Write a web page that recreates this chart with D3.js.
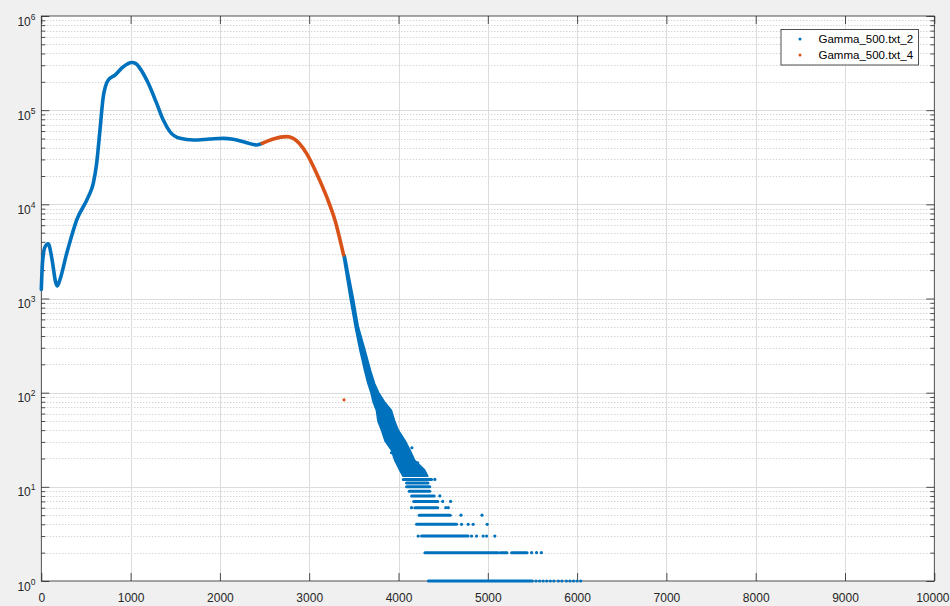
<!DOCTYPE html>
<html>
<head>
<meta charset="utf-8">
<script src="https://cdn.jsdelivr.net/npm/d3@7"></script>
<style>
body { margin: 0; background: #f0f0f0; }
svg { display: block; font-family: "Liberation Sans", Arial, sans-serif; }
</style>
</head>
<body>
<script>
// tick labels
var xTicks = [0,1000,2000,3000,4000,5000,6000,7000,8000,9000,10000];
var yTicks = [1,10,100,1000,10000,100000,1000000];
var yExp = ["0","1","2","3","4","5","6"];

var seriesNames = ["Gamma_500.txt_2", "Gamma_500.txt_4"];
var colors = ["#0072bd", "#d95319"];

// series 2 (blue), smooth part  [energy, counts]
var curve2 = [[0,1250],[12,2300],[40,3500],[78,3800],[120,2600],[160,1500],[180,1360],[210,1600],
  [284,3000],[396,6800],[526,12000],[582,16700],[620,27300],[657,61500],[694,139000],[750,209000],
  [825,236000],[918,289000],[1012,321000],[1060,312000],[1105,278000],[1198,193000],[1292,118000],
  [1366,78500],[1441,59000],[1553,50200],[1702,48200],[1889,49400],[2037,50200],[2149,49000],
  [2299,45100],[2411,42700],[2474,44400]];

// series 4 (orange)
var curve4 = [[2474,44400],[2597,49400],[2747,52300],[2821,50200],[2970,34800],[3083,21300],
  [3195,12050],[3288,6810],[3385,2900]];
var outlier4 = [[3390,84]];

// series 2 noisy tail: band edges per count level
var bandCount = [2900,964,500,283,170,125,100,80,65,50,40,31,24.6,19,15.1,13];
var bandLo = [3380,3464,3517,3570,3624,3660,3694,3718,3755,3772,3812,3850,3922,3962,4015,4052];
var bandHi = [3400,3496,3548,3622,3686,3730,3776,3840,3918,3955,3995,4070,4125,4180,4290,4325];

// series 2 discrete count rows: [count, from, to]
var tailRows = [[1,4335,5500],[2,4296,5116],[2,5140,5215],[2,5266,5440],[3,4258,4780],
  [4,4202,4650],[5,4232,4580],[6,4183,4440],[7,4170,4440],[8,4146,4400],[9,4120,4350],
  [10,4090,4350],[11,4090,4330],[12,4053,4370]];
// series 2 isolated points: [energy, count]
var tailDots = [[5540,1],[5580,1],[5620,1],[5660,1],[5700,1],[5740,1],[5790,1],[5830,1],[5880,1],
  [5920,1],[5960,1],[6000,1],[6040,1],
  [5490,2],[5546,2],[5600,2],
  [4221,3],[4818,3],[4874,3],[4948,3],[4986,3],[5079,3],
  [4706,4],[4780,4],[4836,4],[4993,4],
  [4700,5],[4935,5],
  [4146,6],[4530,6],[4557,6],
  [4495,7],[4583,7],
  [4463,8],
  [4407,12],[3922,23],[4150,26],[4215,18]];

var W = 950, H = 606;
var svg = d3.select("body").append("svg").attr("width", W).attr("height", H);

var x = d3.scaleLinear().domain([0,10000]).range([41.3,934.3]);
var y = d3.scaleLog().domain([1,1e6]).range([581,16]);

var minors = [];
yTicks.slice(0,-1).forEach(function(d){
  for (var m = 2; m <= 9; m++) minors.push(d*m);
});

var ink = "#262626";

// plot background
svg.append("rect")
  .attr("x", x(0)).attr("y", y(1e6))
  .attr("width", x(10000)-x(0)).attr("height", y(1)-y(1e6))
  .attr("fill", "#fff");

// grid
svg.append("g").selectAll("line")
  .data(minors).enter().append("line")
  .attr("x1", x(0)).attr("x2", x(10000))
  .attr("y1", function(d){ return Math.round(y(d))+0.5; })
  .attr("y2", function(d){ return Math.round(y(d))+0.5; })
  .attr("stroke", "#c4c4c4").attr("stroke-dasharray", "1,2");
svg.append("g").selectAll("line")
  .data(yTicks.slice(1,-1)).enter().append("line")
  .attr("x1", x(0)).attr("x2", x(10000))
  .attr("y1", function(d){ return Math.round(y(d))+0.5; })
  .attr("y2", function(d){ return Math.round(y(d))+0.5; })
  .attr("stroke", "#dcdcdc");
svg.append("g").selectAll("line")
  .data(xTicks.slice(1,-1)).enter().append("line")
  .attr("x1", function(d){ return Math.round(x(d))+0.5; })
  .attr("x2", function(d){ return Math.round(x(d))+0.5; })
  .attr("y1", y(1)).attr("y2", y(1e6))
  .attr("stroke", "#dcdcdc");

// axes
function styleAxis(g) {
  g.select(".domain").remove();
  g.selectAll(".tick line").attr("stroke", ink).attr("stroke-width", 0.8);
  g.selectAll("text").attr("fill", ink).attr("font-size", 12).attr("font-family", "Liberation Sans, Arial, sans-serif");
}
var xb = svg.append("g").attr("transform", "translate(0," + y(1) + ")")
  .call(d3.axisBottom(x).tickValues(xTicks).tickSize(-8).tickPadding(12).tickFormat(d3.format("d")))
  .call(styleAxis);
xb.selectAll(".tick text").filter(function(d){ return d === 10000; })
  .attr("text-anchor", "end").attr("x", 949 - x(10000));
svg.append("g").attr("transform", "translate(0," + y(1e6) + ")")
  .call(d3.axisTop(x).tickValues(xTicks).tickSize(-8).tickFormat(""))
  .call(styleAxis);
svg.append("g").attr("transform", "translate(" + x(0) + ",0)")
  .call(d3.axisLeft(y).tickValues(yTicks).tickSize(-8).tickFormat(""))
  .call(styleAxis);
svg.append("g").attr("transform", "translate(" + x(0) + ",0)")
  .call(d3.axisLeft(y).tickValues(minors).tickSize(-4).tickFormat(""))
  .call(styleAxis);
svg.append("g").attr("transform", "translate(" + x(10000) + ",0)")
  .call(d3.axisRight(y).tickValues(yTicks).tickSize(-8).tickFormat(""))
  .call(styleAxis);
svg.append("g").attr("transform", "translate(" + x(10000) + ",0)")
  .call(d3.axisRight(y).tickValues(minors).tickSize(-4).tickFormat(""))
  .call(styleAxis);

svg.append("rect")
  .attr("x", x(0)).attr("y", y(1e6))
  .attr("width", x(10000)-x(0)).attr("height", y(1)-y(1e6))
  .attr("fill", "none").attr("stroke", ink).attr("stroke-width", 0.8);

// y tick labels 10^k
var yl = svg.append("g").selectAll("text")
  .data(yTicks).enter().append("text")
  .attr("x", 35.5)
  .attr("y", function(d){ return y(d) + 9.5; })
  .attr("text-anchor", "end")
  .attr("fill", ink)
  .attr("font-size", 12)
  .text("10");
yl.append("tspan")
  .attr("dy", -6)
  .attr("font-size", 8.5)
  .text(function(d,i){ return yExp[i]; });

// data
var line = d3.line()
  .x(function(d){ return x(d[0]); })
  .y(function(d){ return y(d[1]); })
  .curve(d3.curveMonotoneX);

svg.append("path").datum(curve2)
  .attr("d", line).attr("fill", "none")
  .attr("stroke", colors[0]).attr("stroke-width", 3.6).attr("stroke-linecap", "round");

var band = bandCount.map(function(c,i){ return [c, bandLo[i], bandHi[i]]; });
svg.append("path").datum(band)
  .attr("d", d3.area()
    .y(function(d){ return y(d[0]); })
    .x0(function(d){ return x(d[1]); })
    .x1(function(d){ return x(d[2]); }))
  .attr("fill", colors[0]).attr("stroke", colors[0]).attr("stroke-width", 2)
  .attr("stroke-linejoin", "round");

svg.append("g").selectAll("line")
  .data(tailRows).enter().append("line")
  .attr("x1", function(d){ return x(d[1]); })
  .attr("x2", function(d){ return x(d[2]); })
  .attr("y1", function(d){ return y(d[0]); })
  .attr("y2", function(d){ return y(d[0]); })
  .attr("stroke", colors[0]).attr("stroke-width", 3).attr("stroke-linecap", "round");

svg.append("g").selectAll("circle")
  .data(tailDots).enter().append("circle")
  .attr("cx", function(d){ return x(d[0]); })
  .attr("cy", function(d){ return y(d[1]); })
  .attr("r", 1.6)
  .attr("fill", colors[0]);

svg.append("path").datum(curve4)
  .attr("d", line).attr("fill", "none")
  .attr("stroke", colors[1]).attr("stroke-width", 3.6).attr("stroke-linecap", "round");

svg.append("g").selectAll("circle")
  .data(outlier4).enter().append("circle")
  .attr("cx", function(d){ return x(d[0]); })
  .attr("cy", function(d){ return y(d[1]); })
  .attr("r", 1.6)
  .attr("fill", colors[1]);

// legend
var lg = svg.append("g").attr("transform", "translate(781,29.5)");
lg.append("rect")
  .attr("width", 137.5).attr("height", 35.5)
  .attr("fill", "#fff").attr("stroke", ink).attr("stroke-width", 0.8);
var items = lg.selectAll("g.item")
  .data(seriesNames).enter().append("g")
  .attr("transform", function(d,i){ return "translate(0," + (9.5 + i*16) + ")"; });
items.append("circle")
  .attr("cx", 19).attr("cy", 0).attr("r", 1.5)
  .attr("fill", function(d,i){ return colors[i]; });
items.append("text")
  .attr("x", 37.5).attr("y", 4)
  .attr("font-size", 11.5).attr("fill", "#000")
  .text(function(d){ return d; });
</script>
</body>
</html>
